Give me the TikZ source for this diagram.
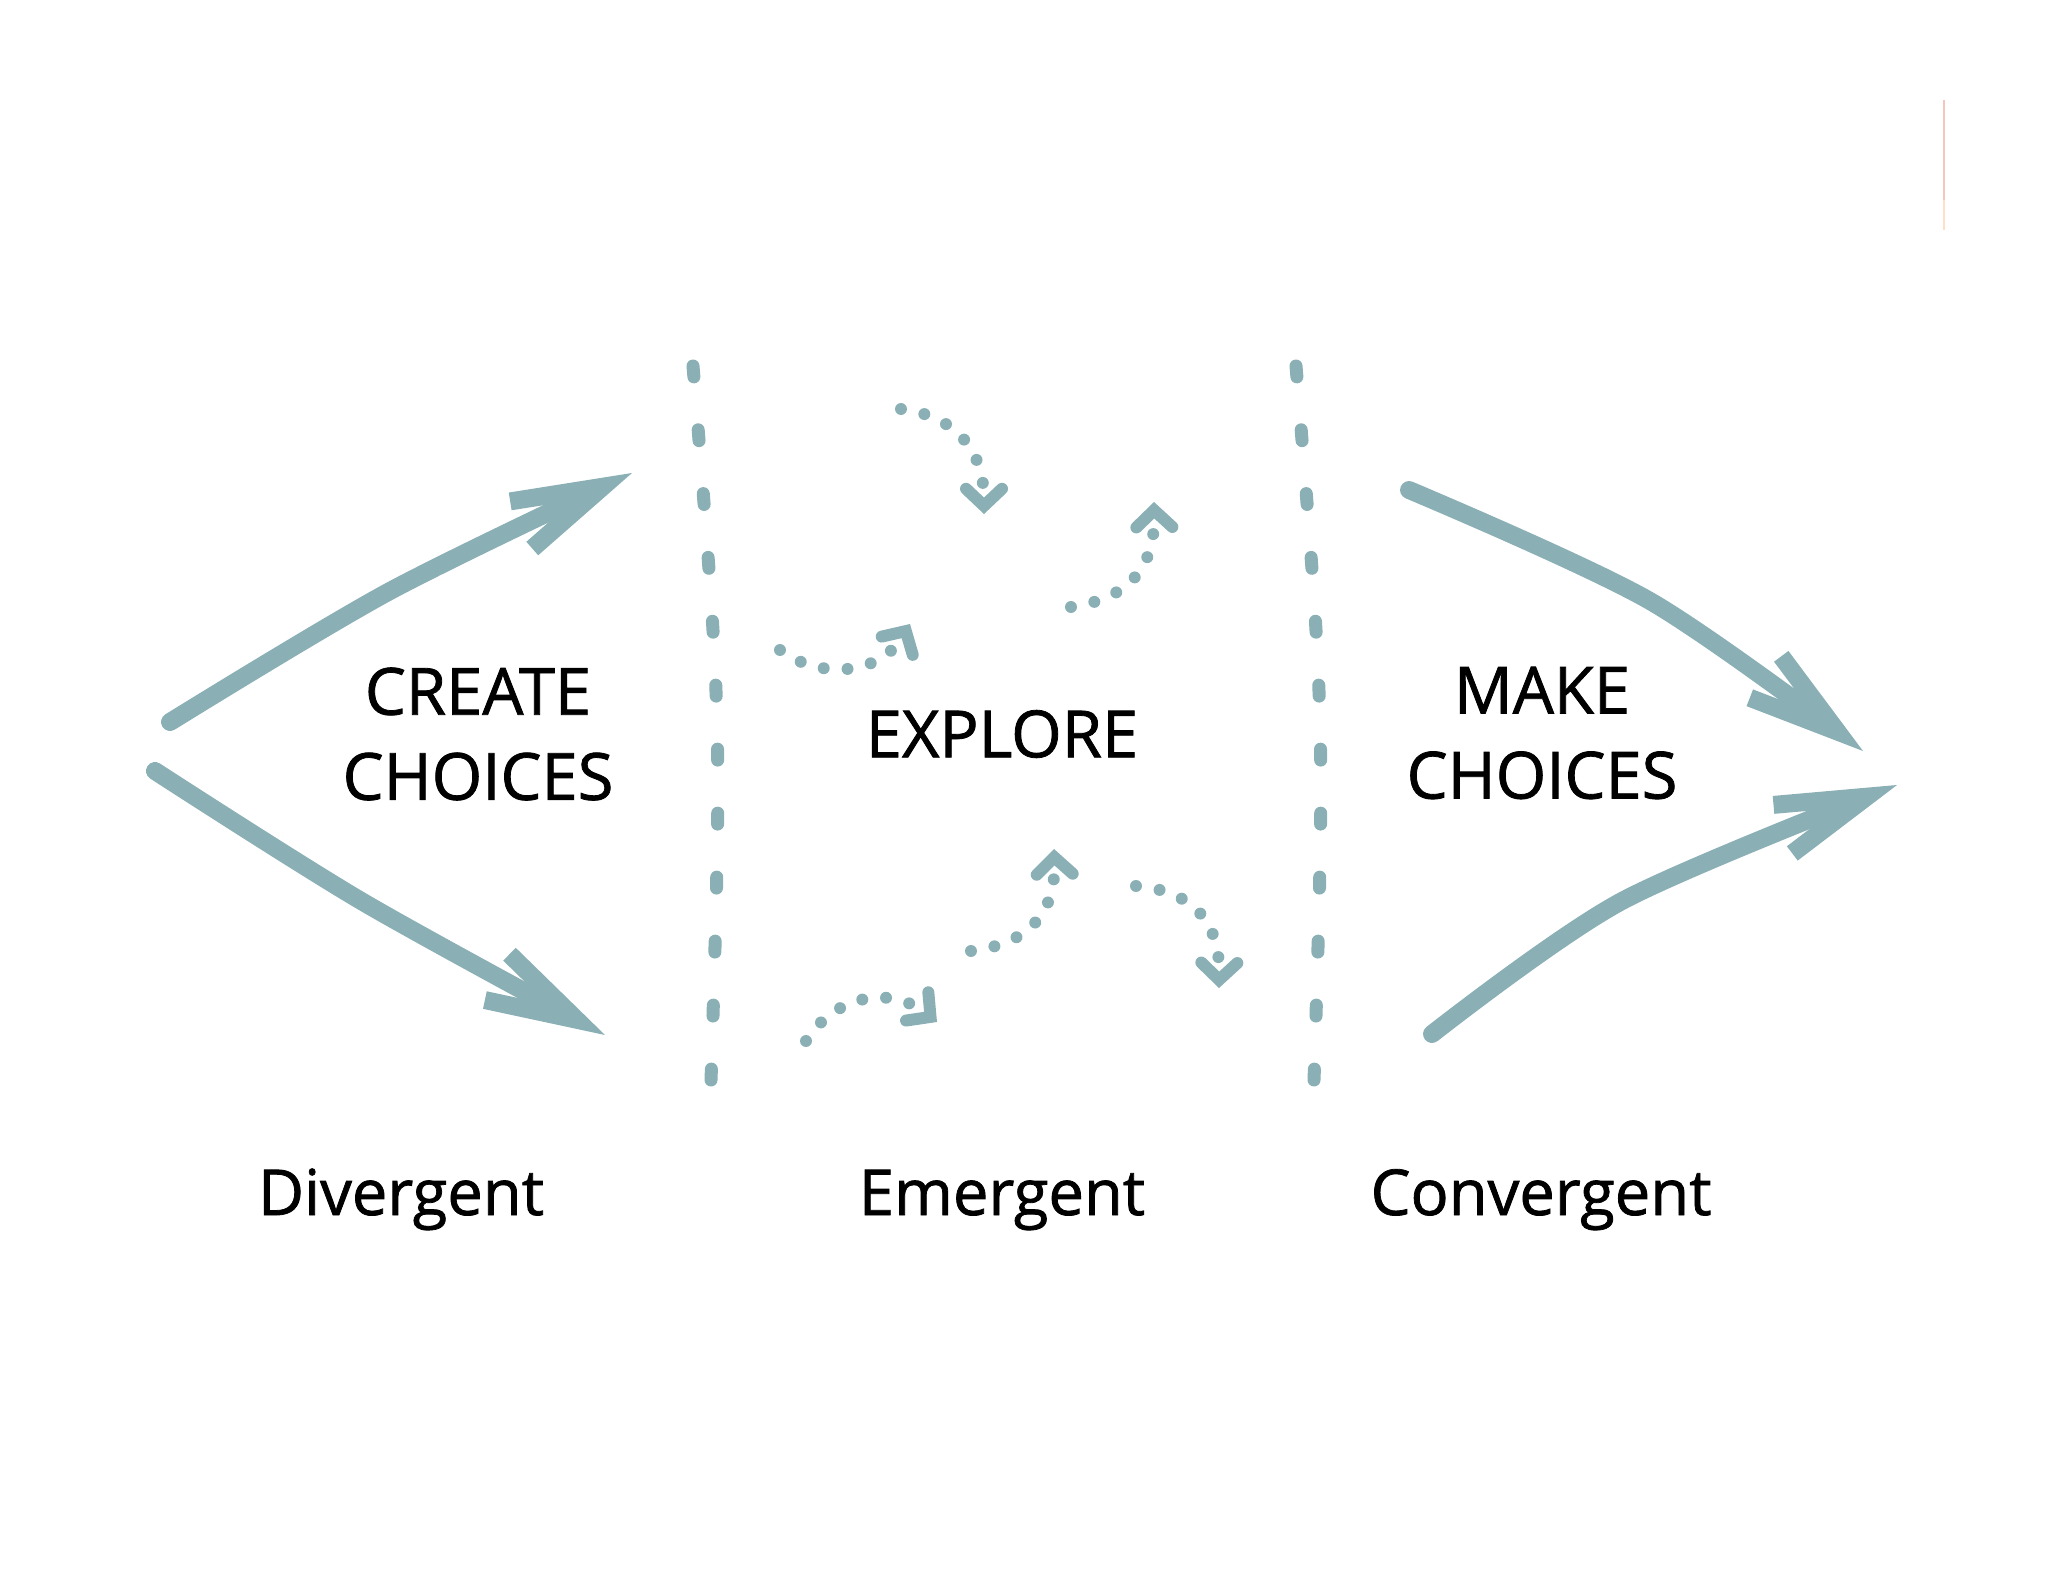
\documentclass[tikz,border=0pt]{standalone}
\usepackage{fontspec}
\setmainfont{Open Sans}[FakeBold=1.2]
\usepackage{xcolor}
\usepackage{tikz}
\usetikzlibrary{arrows.meta}
\definecolor{sage}{RGB}{138,175,180}
\definecolor{blush}{RGB}{245,198,188}
\definecolor{peach}{RGB}{255,224,198}
\tikzset{
  bigarrow/.style={draw=sage,line width=5.1pt,line cap=round,line join=round,
                   -{Straight Barb[sharp,length=0.9cm,width=0.52cm]}},
  divider/.style ={draw=sage,line width=3.7pt,line cap=round,dash pattern=on 3.1pt off 15.1pt},
  walk/.style    ={draw=sage,line width=3.4pt,line cap=round,dash pattern=on 0pt off 6.8pt,
                   -{Straight Barb[length=0.17cm,width=0.36cm,line cap=round,line join=miter]}},
  stage/.style   ={font=\fontsize{18.5}{24.2}\selectfont,align=center,inner sep=0pt},
  caption/.style ={font=\fontsize{18}{22}\selectfont,anchor=base,inner sep=0pt},
}

\begin{document}
\begin{tikzpicture}[x=0.01cm,y=-0.01cm]
  \useasboundingbox (0,0) rectangle (2048,1582);

  % stage names
  \node[stage] (create)  at (478,734)  {CREATE\\CHOICES};
  \node[stage] (explore) at (1002,734) {EXPLORE};
  \node[stage] (make)    at (1542,733) {MAKE\\CHOICES};
  \foreach \x/\name/\word in {401/diverge/Divergent,1002/emerge/Emergent,1541/converge/Convergent}{
     \node[caption] (\name) at (\x,1215) {\word};
  }

  % the two boundaries
  \foreach \x in {693,1296}{
     \draw[divider] (\x,366) .. controls (\x+29,723) .. (\x+18,1081);
  }

  % fanning out
  \draw[bigarrow] plot[smooth] coordinates {(170,722) (390,591) (632,473)};
  \draw[bigarrow] plot[smooth] coordinates {(155,771) (363,902) (605,1035)};

  % wandering in the middle
  \draw[walk] (901,409)  .. controls (950,415)  and (984,445)  .. (984,514);
  \draw[walk] (1071,607) .. controls (1120,600) and (1155,575) .. (1154,502);
  \draw[walk] (780,650)  .. controls (820,680)  and (880,675)  .. (910,624);
  \draw[walk] (806,1041) .. controls (835,995)  and (890,985)  .. (937,1022);
  \draw[walk] (971,951)  .. controls (1020,945) and (1056,920) .. (1054,849);
  \draw[walk] (1136,886) .. controls (1185,890) and (1220,915) .. (1219,988);

  % closing in
  \draw[bigarrow] plot[smooth] coordinates {(1409,490) (1650,601) (1863,751)};
  \draw[bigarrow] plot[smooth] coordinates {(1432,1034) (1622,901) (1897,785)};

  % thin mark top right
  \draw[blush,line width=0.6pt] (1944,100) -- (1944,200);
  \draw[peach,line width=0.6pt] (1944,200) -- (1944,230);
\end{tikzpicture}
\end{document}
